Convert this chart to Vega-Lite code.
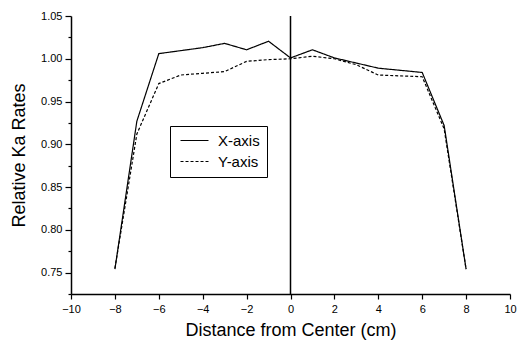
{
  "$schema": "https://vega.github.io/schema/vega-lite/v6.json",
  "width": 439,
  "height": 278,
  "autosize": {"type": "none"},
  "padding": {"left": 71, "top": 16, "right": 13, "bottom": 47},
  "background": "white",
  "config": {
    "view": {"stroke": null},
    "font": "Liberation Sans",
    "axis": {
      "domainColor": "black",
      "domainWidth": 1.5,
      "tickColor": "black",
      "tickWidth": 1.2,
      "labelColor": "black",
      "titleColor": "black",
      "labelFont": "Liberation Sans",
      "titleFont": "Liberation Sans",
      "labelFontSize": 11,
      "titleFontSize": 18,
      "titleFontWeight": "normal",
      "grid": false
    }
  },
  "datasets": {
    "profiles": [
      {"d": -8, "r": 0.754, "series": "X-axis"},
      {"d": -7, "r": 0.927, "series": "X-axis"},
      {"d": -6, "r": 1.006, "series": "X-axis"},
      {"d": -5, "r": 1.0095, "series": "X-axis"},
      {"d": -4, "r": 1.013, "series": "X-axis"},
      {"d": -3, "r": 1.018, "series": "X-axis"},
      {"d": -2, "r": 1.0105, "series": "X-axis"},
      {"d": -1, "r": 1.0205, "series": "X-axis"},
      {"d": 0, "r": 1.001, "series": "X-axis"},
      {"d": 1, "r": 1.0105, "series": "X-axis"},
      {"d": 2, "r": 1.001, "series": "X-axis"},
      {"d": 3, "r": 0.995, "series": "X-axis"},
      {"d": 4, "r": 0.989, "series": "X-axis"},
      {"d": 5, "r": 0.9865, "series": "X-axis"},
      {"d": 6, "r": 0.984, "series": "X-axis"},
      {"d": 7, "r": 0.922, "series": "X-axis"},
      {"d": 8, "r": 0.754, "series": "X-axis"},
      {"d": -8, "r": 0.755, "series": "Y-axis"},
      {"d": -7, "r": 0.912, "series": "Y-axis"},
      {"d": -6, "r": 0.971, "series": "Y-axis"},
      {"d": -5, "r": 0.981, "series": "Y-axis"},
      {"d": -4, "r": 0.983, "series": "Y-axis"},
      {"d": -3, "r": 0.985, "series": "Y-axis"},
      {"d": -2, "r": 0.997, "series": "Y-axis"},
      {"d": -1, "r": 0.999, "series": "Y-axis"},
      {"d": 0, "r": 1.0, "series": "Y-axis"},
      {"d": 1, "r": 1.003, "series": "Y-axis"},
      {"d": 2, "r": 1.0, "series": "Y-axis"},
      {"d": 3, "r": 0.993, "series": "Y-axis"},
      {"d": 4, "r": 0.981, "series": "Y-axis"},
      {"d": 5, "r": 0.98, "series": "Y-axis"},
      {"d": 6, "r": 0.979, "series": "Y-axis"},
      {"d": 7, "r": 0.918, "series": "Y-axis"},
      {"d": 8, "r": 0.754, "series": "Y-axis"}
    ],
    "center": [{"d": 0}]
  },
  "layer": [
    {
      "data": {"name": "profiles"},
      "mark": {"type": "line", "color": "black", "strokeWidth": 1.2},
      "encoding": {
        "x": {
          "field": "d", "type": "quantitative",
          "scale": {"domain": [-10, 10], "nice": false},
          "axis": {
            "title": "Distance from Center (cm)",
            "values": [-10, -9, -8, -7, -6, -5, -4, -3, -2, -1, 0, 1, 2, 3, 4, 5, 6, 7, 8, 9, 10],
            "labelExpr": "datum.value % 2 == 0 ? datum.label : ''",
            "tickSize": {"condition": {"test": "datum.value % 2 != 0", "value": 3}, "value": 5},
            "labelPadding": 4,
            "titlePadding": 7,
            "labelFlush": false,
            "labelOverlap": false
          }
        },
        "y": {
          "field": "r", "type": "quantitative",
          "scale": {"domain": [0.725, 1.05], "nice": false, "zero": false},
          "axis": {
            "title": "Relative Ka Rates",
            "values": [0.725, 0.75, 0.775, 0.8, 0.825, 0.85, 0.875, 0.9, 0.925, 0.95, 0.975, 1.0, 1.025, 1.05],
            "format": ".2f",
            "labelExpr": "(datum.label == '0.75' || datum.label == '0.80' || datum.label == '0.85' || datum.label == '0.90' || datum.label == '0.95' || datum.label == '1.00' || datum.label == '1.05') ? datum.label : ''",
            "tickSize": {"condition": {"test": "abs(datum.value * 20 - round(datum.value * 20)) > 0.01", "value": 3}, "value": 6},
            "labelPadding": 3,
            "titlePadding": 12,
            "labelFlush": false,
            "labelOverlap": false
          }
        },
        "strokeDash": {
          "field": "series", "type": "nominal",
          "scale": {"domain": ["X-axis", "Y-axis"], "range": [[1, 0], [3, 2]]},
          "legend": {
            "title": null,
            "orient": "none",
            "legendX": 99,
            "legendY": 110,
            "strokeColor": "black",
            "padding": 7,
            "symbolType": "M-3,0H3",
            "symbolSize": 87,
            "symbolStrokeWidth": 1.2,
            "symbolStrokeColor": "black",
            "symbolOffset": 10,
            "labelOffset": 16,
            "labelFontSize": 15,
            "labelFont": "Liberation Sans",
            "labelColor": "black",
            "rowPadding": 5
          }
        }
      }
    },
    {
      "data": {"name": "center"},
      "mark": {"type": "rule", "color": "black", "strokeWidth": 1.5},
      "encoding": {
        "x": {"field": "d", "type": "quantitative"}
      }
    }
  ]
}
